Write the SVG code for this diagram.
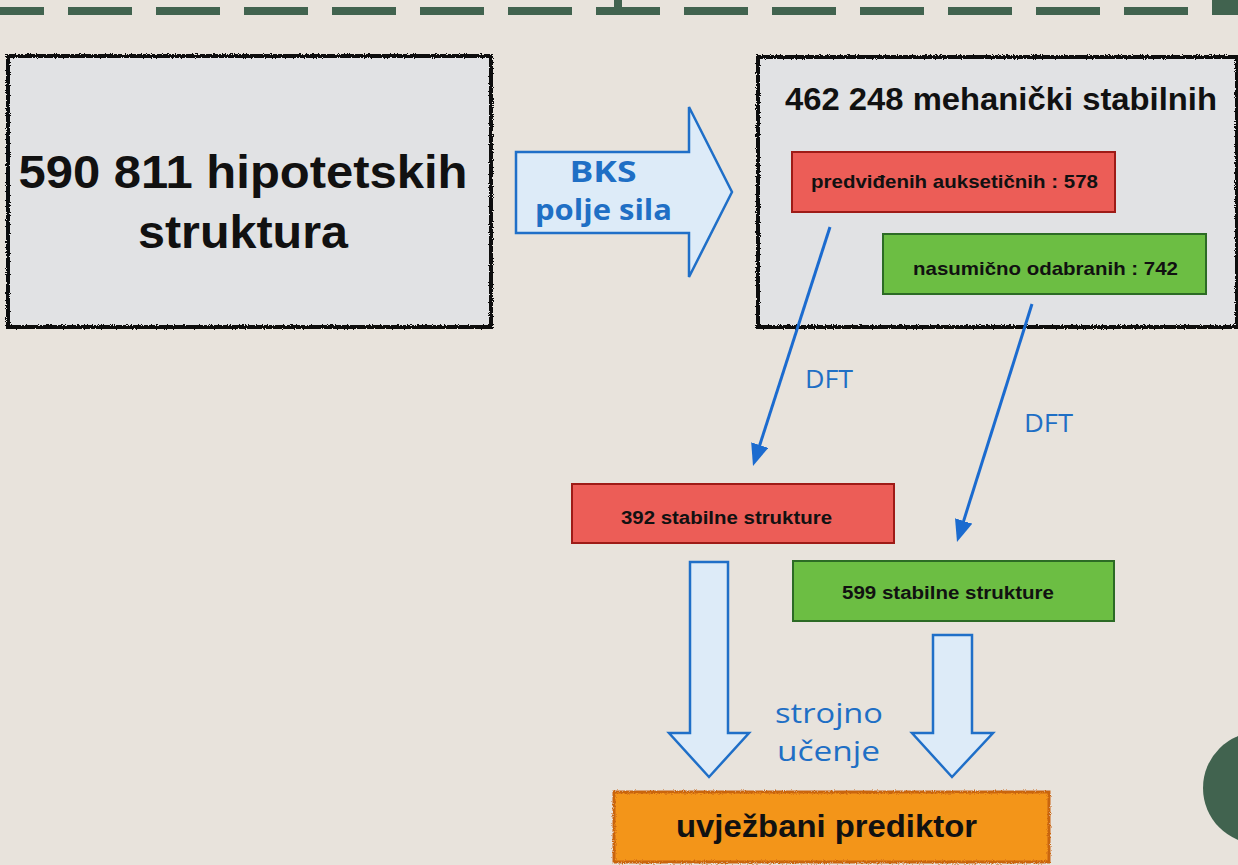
<svg xmlns="http://www.w3.org/2000/svg" width="1238" height="865" viewBox="0 0 1238 865">
  <defs>
    <filter id="rough" x="-5%" y="-5%" width="110%" height="110%">
      <feTurbulence type="fractalNoise" baseFrequency="0.9" numOctaves="2" seed="3" result="n"/>
      <feDisplacementMap in="SourceGraphic" in2="n" scale="3.5" xChannelSelector="R" yChannelSelector="G"/>
    </filter>
    <marker id="head" viewBox="0 0 22 18" refX="8" refY="9" markerWidth="22" markerHeight="18" markerUnits="userSpaceOnUse" orient="auto">
      <path d="M0,0 L22,9 L0,18 z" fill="#1B6BCF"/>
    </marker>
  </defs>
  <style>
    .bg { fill: #E8E3DC; }
    .deco { fill: #41634F; }
    .gray { fill: #E1E2E4; }
    .rough { fill: none; stroke: #111; stroke-width: 4; filter: url(#rough); }
    .red { fill: #EC5D57; stroke: #9E1B17; stroke-width: 2; }
    .green { fill: #6CBE43; stroke: #2C6B25; stroke-width: 2; }
    .orange { fill: #F39519; }
    .orough { fill: none; stroke: #C9650E; stroke-width: 3; filter: url(#rough); }
    .blk { font-family: "Liberation Sans", Arial, sans-serif; font-weight: bold; fill: #111; text-anchor: middle; }
    .blue { font-family: "Open Sans", "Liberation Sans", sans-serif; fill: #1F6FC5; }
    .bigarrow { fill: #DDEBF8; stroke: #1F6FC8; stroke-width: 2.5; stroke-linejoin: miter; }
    .dft { stroke: #1B6BCF; stroke-width: 3; fill: none; }
  </style>

  <rect class="bg" x="0" y="0" width="1238" height="865"/>

  <!-- decorative frame -->
  <g id="decoration">
    <line x1="0" y1="11" x2="1200" y2="11" stroke="#41634F" stroke-width="8" stroke-dasharray="64 24" stroke-dashoffset="20"/>
    <rect class="deco" x="614" y="0" width="8" height="8"/>
    <rect class="deco" x="1212" y="0" width="26" height="15"/>
    <circle class="deco" cx="1259" cy="788" r="56"/>
  </g>

  <g id="node-hipotetske">
    <rect class="gray" x="8" y="56" width="483" height="271"/>
    <rect class="rough" x="8" y="56" width="483" height="271"/>
    <text class="blk" x="243" y="188" font-size="47" textLength="449" lengthAdjust="spacingAndGlyphs">590 811 hipotetskih</text>
    <text class="blk" x="243" y="248" font-size="47" textLength="210" lengthAdjust="spacingAndGlyphs">struktura</text>
  </g>

  <g id="node-mehanicki">
    <rect class="gray" x="758" y="57" width="479" height="270"/>
    <rect class="rough" x="758" y="57" width="479" height="270"/>
    <text class="blk" x="1001" y="110" font-size="32" textLength="432" lengthAdjust="spacingAndGlyphs">462 248 mehanički stabilnih</text>
  </g>

  <g id="node-auksetici">
    <rect class="red" x="792" y="152" width="323" height="60"/>
    <text class="blk" x="954.5" y="188" font-size="19" textLength="287" lengthAdjust="spacingAndGlyphs">predviđenih auksetičnih : 578</text>
  </g>

  <g id="node-nasumicni">
    <rect class="green" x="883" y="234" width="323" height="60"/>
    <text class="blk" x="1045.5" y="275" font-size="19" textLength="265" lengthAdjust="spacingAndGlyphs">nasumično odabranih : 742</text>
  </g>

  <g id="node-392">
    <rect class="red" x="572" y="484" width="322" height="59"/>
    <text class="blk" x="726.5" y="524" font-size="18" textLength="211" lengthAdjust="spacingAndGlyphs">392 stabilne strukture</text>
  </g>

  <g id="node-599">
    <rect class="green" x="793" y="561" width="321" height="60"/>
    <text class="blk" x="948" y="599" font-size="18" textLength="212" lengthAdjust="spacingAndGlyphs">599 stabilne strukture</text>
  </g>

  <g id="node-prediktor">
    <rect class="orange" x="614" y="792" width="435" height="70"/>
    <rect class="orough" x="614" y="792" width="435" height="70"/>
    <text class="blk" x="826.5" y="837" font-size="32" textLength="301" lengthAdjust="spacingAndGlyphs">uvježbani prediktor</text>
  </g>

  <g id="connectors">
    <g id="arrow-bks">
      <path class="bigarrow" d="M516,152 L689,152 L689,107 L732,192 L689,277 L689,233 L516,233 Z"/>
      <text class="blue" x="603" y="182" font-size="28" font-weight="bold" text-anchor="middle" font-family="Liberation Sans, sans-serif" textLength="67" lengthAdjust="spacingAndGlyphs">BKS</text>
      <text class="blue" x="603.5" y="220" font-size="28" font-weight="bold" text-anchor="middle" font-family="Liberation Sans, sans-serif" textLength="137" lengthAdjust="spacingAndGlyphs">polje sila</text>
    </g>
    <g id="arrow-dft-1">
      <line class="dft" x1="830" y1="227" x2="757.3" y2="452.7" marker-end="url(#head)"/>
      <text class="blue" x="805" y="388" font-size="26" textLength="48" lengthAdjust="spacingAndGlyphs">DFT</text>
    </g>
    <g id="arrow-dft-2">
      <line class="dft" x1="1032" y1="304" x2="961.2" y2="528.6" marker-end="url(#head)"/>
      <text class="blue" x="1024" y="432" font-size="26" textLength="49" lengthAdjust="spacingAndGlyphs">DFT</text>
    </g>
    <g id="arrows-ml">
      <path class="bigarrow" d="M690,562 L728,562 L728,733 L749,733 L709,777 L669,733 L690,733 Z"/>
      <path class="bigarrow" d="M933,635 L972,635 L972,733 L993,733 L952,777 L912,733 L933,733 Z"/>
      <text class="blue" x="829" y="723" font-size="28" text-anchor="middle" textLength="108" lengthAdjust="spacingAndGlyphs">strojno</text>
      <text class="blue" x="828.5" y="761" font-size="28" text-anchor="middle" textLength="103" lengthAdjust="spacingAndGlyphs">učenje</text>
    </g>
  </g>
</svg>
